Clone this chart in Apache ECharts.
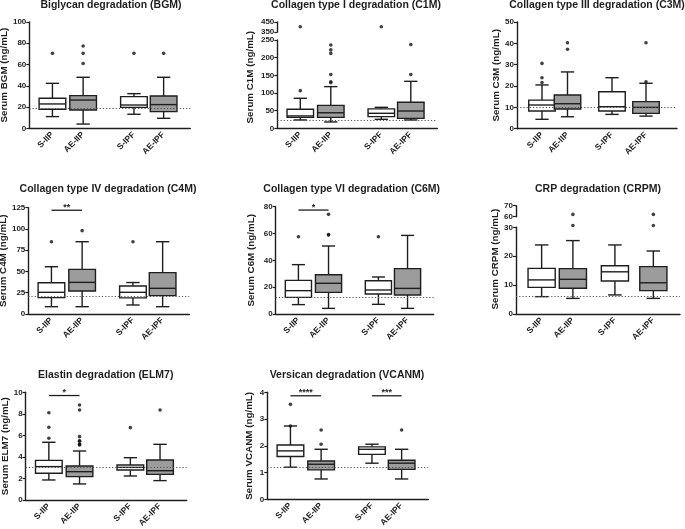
<!DOCTYPE html>
<html><head><meta charset="utf-8">
<script src="https://cdn.jsdelivr.net/npm/echarts@6/dist/echarts.min.js"></script>
<style>html,body{margin:0;padding:0;background:#fff}#c{width:685px;height:529px}</style>
</head><body><div id="c"></div>
<script>
// ---------- data ----------
const GROUPS = ['S-IIP', 'AE-IIP', 'S-IPF', 'AE-IPF'];
// box stats per group: [min, Q1, median, Q3, max]
const bgmStats = [[11, 17.9, 22.9, 28.2, 42.3], [4, 17.2, 26.6, 30.7, 48], [13.2, 19.7, 21.9, 29.8, 32.6], [9.4, 15.7, 22.3, 30.4, 48]];
const bgmOut = [[70.5], [77.4, 70.5, 61], [70.5], [70.5]];
const bgmRef = 19.1;

const c1mStats = [[23.6, 31, 35, 53.8, 85], [18, 31, 44, 65, 118], [25.5, 33, 42.5, 55, 59.4], [23.6, 28, 49, 73.6, 133]];
const c1mOut = [[106.6], [236, 222, 212, 152, 132, 129], [], [237, 152]];
const c1mOutHigh = [[403], [], [403], []];
const c1mRef = 22;

const c3mStats = [[4.4, 8.3, 11.1, 13.4, 20.5], [5.6, 9.2, 11.7, 15.8, 26.6], [6.7, 8.3, 10.3, 17.3, 23.9], [5.9, 7.2, 10, 12.7, 21.3]];
const c3mOut = [[30.6, 23.9, 21.6], [40.3, 37.2], [], [40.3, 22]];
const c3mRef = 10;

const c4mStats = [[8.6, 19.2, 25.5, 36.8, 55.6], [8.6, 27, 37.2, 52.5, 85], [10.6, 19, 25.5, 33, 37], [8.6, 21.6, 30.2, 48.6, 85]];
const c4mOut = [[85], [98], [85], []];
const c4mRef = 20.8;
const c4mSig = [[0, 1, 122, '**']];

const c6mStats = [[7, 12.4, 17.4, 25.1, 36.8], [4.2, 16.1, 22.9, 29.3, 50.7], [7.2, 14.9, 17.9, 24.8, 27.6], [4.2, 14.2, 19.1, 33.8, 58.6]];
const c6mOut = [[57.6], [74.3, 58.9, 59.2], [57.6], []];
const c6mRef = 12.4;
const c6mSig = [[0, 1, 77.5, '*']];

const crpmStats = [[6, 9.2, 11.8, 15.8, 23.9], [5.4, 8.9, 12, 15.7, 25.4], [6.6, 11.4, 14.6, 16.7, 23.9], [5.4, 8.1, 10.8, 16.4, 21.8]];
const crpmOut = [[], [30.6], [], [30.6]];
const crpmOutHigh = [[], [62.1], [], [62.1]];
const crpmRef = 6.2;

const elmStats = [[1.86, 2.48, 3.1, 3.68, 5.36], [1.49, 2.17, 2.63, 3.16, 4.55], [2.23, 2.79, 3.03, 3.25, 3.93], [1.8, 2.38, 2.72, 3.72, 5.17]];
const elmOut = [[8.1, 6.75, 5.73], [8.82, 8.36, 5.88, 5.5, 5.45, 5.2, 5.15, 5.1], [6.72], [8.36]];
const elmRef = 3.07;
const elmSig = [[0, 1, 9.7, '*']];

const vcanStats = [[1.2, 1.6, 1.81, 2.03, 2.74], [0.76, 1.1, 1.31, 1.43, 1.87], [1.35, 1.68, 1.87, 1.96, 2.06], [0.76, 1.12, 1.35, 1.46, 1.87]];
const vcanOut = [[3.55, 2.74], [2.59, 2.06], [], [2.59]];
const vcanRef = 1.2;
const vcanSig = [[0, 1, 3.87, '****'], [2, 3, 3.87, '***']];

// ---------- layout ----------
const FONT = '"Liberation Sans", Arial, sans-serif';
const INK = '#1e1e1e';
const FILLS = ['#ffffff', '#9c9c9c', '#ffffff', '#9c9c9c'];
const XS_DEFAULT = [4.6, 10.7, 20.8, 26.7];
const XMAX = 32;
const BOXW = 5.3;

const panels = [
  { title: 'Biglycan degradation (BGM)', tx: 111, ty: 0, yName: 'Serum BGM (ng/mL)', nameGap: 19, namePad: 0,
    grid: [29.3, 22, 161, 106.3], y: [0, 100, 20], stats: bgmStats, out: bgmOut, ref: bgmRef, sig: [] },
  { title: 'Collagen type I degradation (C1M)', tx: 356, ty: 0, yName: 'Serum C1M (ng/mL)', nameGap: 22, namePad: 14,
    grid: [277.3, 40, 160, 88.3], y: [0, 250, 50], stats: c1mStats, out: c1mOut, ref: c1mRef, sig: [],
    upper: { grid: [277.3, 22, 160, 10], y: [350, 450, 100], out: c1mOutHigh } },
  { title: 'Collagen type III degradation (C3M)', tx: 597, ty: 0, yName: 'Serum C3M (ng/mL)', nameGap: 14, namePad: 0,
    grid: [517, 22, 160, 106.7], y: [0, 50, 10], stats: c3mStats, out: c3mOut, ref: c3mRef, sig: [], xs: [5.0, 10.1, 19.0, 25.8] },
  { title: 'Collagen type IV degradation (C4M)', tx: 108, ty: 184, yName: 'Serum C4M (ng/mL)', nameGap: 17, namePad: 0,
    grid: [28.3, 207.7, 161, 106.3], y: [0, 125, 25], stats: c4mStats, out: c4mOut, ref: c4mRef, sig: c4mSig },
  { title: 'Collagen type VI degradation (C6M)', tx: 351.7, ty: 184, yName: 'Serum C6M (ng/mL)', nameGap: 19, namePad: 0,
    grid: [275.7, 206.7, 158, 107.3], y: [0, 80, 20], stats: c6mStats, out: c6mOut, ref: c6mRef, sig: c6mSig },
  { title: 'CRP degradation (CRPM)', tx: 598, ty: 184, yName: 'Serum CRPM (ng/mL)', nameGap: 15, namePad: 23,
    grid: [516, 227.3, 164, 86.7], y: [0, 30, 10], stats: crpmStats, out: crpmOut, ref: crpmRef, sig: [], xs: [5.0, 11.1, 19.3, 26.8],
    upper: { grid: [516, 205.7, 164, 11], y: [60, 70, 10], out: crpmOutHigh } },
  { title: 'Elastin degradation (ELM7)', tx: 105.7, ty: 370, yName: 'Serum ELM7 (ng/mL)', nameGap: 15, namePad: 0,
    grid: [25.7, 392.3, 161, 107.7], y: [0, 10, 2], stats: elmStats, out: elmOut, ref: elmRef, sig: elmSig },
  { title: 'Versican degradation (VCANM)', tx: 347, ty: 370, yName: 'Serum VCANM (ng/mL)', nameGap: 13.5, namePad: 0,
    grid: [267.3, 392.3, 161, 107], y: [0, 4, 1], stats: vcanStats, out: vcanOut, ref: vcanRef, sig: vcanSig }
];

const option = { animation: false, backgroundColor: '#fff', title: [], grid: [], xAxis: [], yAxis: [], series: [] };

function yAxisCfg(gi, yr, name, gap, pad) {
  const a = {
    gridIndex: gi, type: 'value', min: yr[0], max: yr[1], interval: yr[2],
    axisLine: { show: true, lineStyle: { color: INK, width: 1.4 } },
    axisTick: { show: true, length: 3, lineStyle: { color: INK, width: 1.2 } },
    axisLabel: { fontSize: 8, fontWeight: 'bold', color: INK, margin: 3, fontFamily: FONT },
    splitLine: { show: false }
  };
  if (name) {
    a.name = name; a.nameLocation = 'middle'; a.nameGap = gap; a.nameRotate = 90;
    a.nameTextStyle = { fontSize: 9.8, fontWeight: 'bold', color: INK, fontFamily: FONT, padding: [0, 0, 0, pad] };
  }
  return a;
}

function boxRender(params, api) {
  const x = api.value(0);
  const gi = api.value(6);
  const pMin = api.coord([x, api.value(1)]);
  const pQ1 = api.coord([x, api.value(2)]);
  const pMd = api.coord([x, api.value(3)]);
  const pQ3 = api.coord([x, api.value(4)]);
  const pMax = api.coord([x, api.value(5)]);
  const w = api.size([BOXW, 0])[0];
  const cw = w * 0.5;
  const cx = pMd[0];
  const st = { stroke: INK, lineWidth: 1.4 };
  return { type: 'group', children: [
    { type: 'line', shape: { x1: cx, y1: pMax[1], x2: cx, y2: pQ3[1] }, style: st },
    { type: 'line', shape: { x1: cx, y1: pQ1[1], x2: cx, y2: pMin[1] }, style: st },
    { type: 'line', shape: { x1: cx - cw / 2, y1: pMax[1], x2: cx + cw / 2, y2: pMax[1] }, style: st },
    { type: 'line', shape: { x1: cx - cw / 2, y1: pMin[1], x2: cx + cw / 2, y2: pMin[1] }, style: st },
    { type: 'rect', shape: { x: cx - w / 2, y: pQ3[1], width: w, height: pQ1[1] - pQ3[1] }, style: { fill: FILLS[gi], stroke: INK, lineWidth: 1.4 } },
    { type: 'line', shape: { x1: cx - w / 2, y1: pMd[1], x2: cx + w / 2, y2: pMd[1] }, style: st }
  ] };
}

panels.forEach((p) => {
  const xs = p.xs || XS_DEFAULT;
  option.title.push({ text: p.title, left: p.tx, top: p.ty, textAlign: 'center', padding: 0,
    textStyle: { fontSize: 10.5, fontWeight: 'bold', color: INK, fontFamily: FONT } });
  const gi = option.grid.length;
  option.grid.push({ left: p.grid[0], top: p.grid[1], width: p.grid[2], height: p.grid[3], outerBoundsMode: 'none', containLabel: false });
  option.xAxis.push({
    gridIndex: gi, type: 'value', min: 0, max: XMAX,
    axisLine: { show: true, onZero: false, lineStyle: { color: INK, width: 1.4 } },
    axisTick: { show: false }, splitLine: { show: false },
    axisLabel: {
      customValues: xs, rotate: 45, fontSize: 8.5, fontWeight: 'bold', color: INK, margin: 5, fontFamily: FONT,
      formatter: (v) => { let bi = 0; xs.forEach((q, i) => { if (Math.abs(q - v) < Math.abs(xs[bi] - v)) bi = i; }); return GROUPS[bi]; }
    }
  });
  option.yAxis.push(yAxisCfg(gi, p.y, p.yName, p.nameGap, p.namePad));

  option.series.push({
    type: 'custom', xAxisIndex: gi, yAxisIndex: gi, renderItem: boxRender, clip: false,
    encode: { x: 0, y: [1, 2, 3, 4, 5] },
    data: p.stats.map((s, i) => [xs[i], s[0], s[1], s[2], s[3], s[4], i])
  });
  const pts = [];
  p.out.forEach((arr, i) => arr.forEach((v) => pts.push([xs[i], v])));
  option.series.push({
    type: 'scatter', xAxisIndex: gi, yAxisIndex: gi, symbol: 'circle', symbolSize: 3.6, clip: false,
    itemStyle: { color: '#111' }, data: pts, silent: true,
    markLine: { silent: true, symbol: ['none', 'none'], label: { show: false }, animation: false,
      lineStyle: { color: '#555', type: [1.2, 2], width: 1 }, data: [{ yAxis: p.ref }] }
  });
  if (p.sig.length) {
    const labels = p.sig.map((s) => s[3]);
    option.series.push({
      type: 'custom', xAxisIndex: gi, yAxisIndex: gi, clip: false, encode: { x: [0, 1], y: 2 },
      data: p.sig.map((s) => [xs[s[0]], xs[s[1]], s[2]]),
      renderItem: (params, api) => {
        const a = api.coord([api.value(0), api.value(2)]);
        const b = api.coord([api.value(1), api.value(2)]);
        return { type: 'group', children: [
          { type: 'line', shape: { x1: a[0], y1: a[1], x2: b[0], y2: b[1] }, style: { stroke: INK, lineWidth: 1.3 } },
          { type: 'text', x: (a[0] + b[0]) / 2, y: a[1] - 3, style: { text: labels[params.dataIndex], align: 'center', verticalAlign: 'middle',
            font: 'bold 9px ' + FONT, fill: INK } }
        ] };
      }
    });
  }
  if (p.upper) {
    const u = p.upper;
    const ui = option.grid.length;
    option.grid.push({ left: u.grid[0], top: u.grid[1], width: u.grid[2], height: u.grid[3], outerBoundsMode: 'none', containLabel: false });
    option.xAxis.push({ gridIndex: ui, type: 'value', min: 0, max: XMAX, show: false });
    option.yAxis.push(yAxisCfg(ui, u.y, null));
    const up = [];
    u.out.forEach((arr, i) => arr.forEach((v) => up.push([xs[i], v])));
    option.series.push({ type: 'scatter', xAxisIndex: ui, yAxisIndex: ui, symbol: 'circle', symbolSize: 3.6, clip: false,
      itemStyle: { color: '#111' }, data: up, silent: true });
  }
});

const chart = echarts.init(document.getElementById('c'), null, { renderer: 'canvas' });
chart.setOption(option);
</script>
</body></html>
